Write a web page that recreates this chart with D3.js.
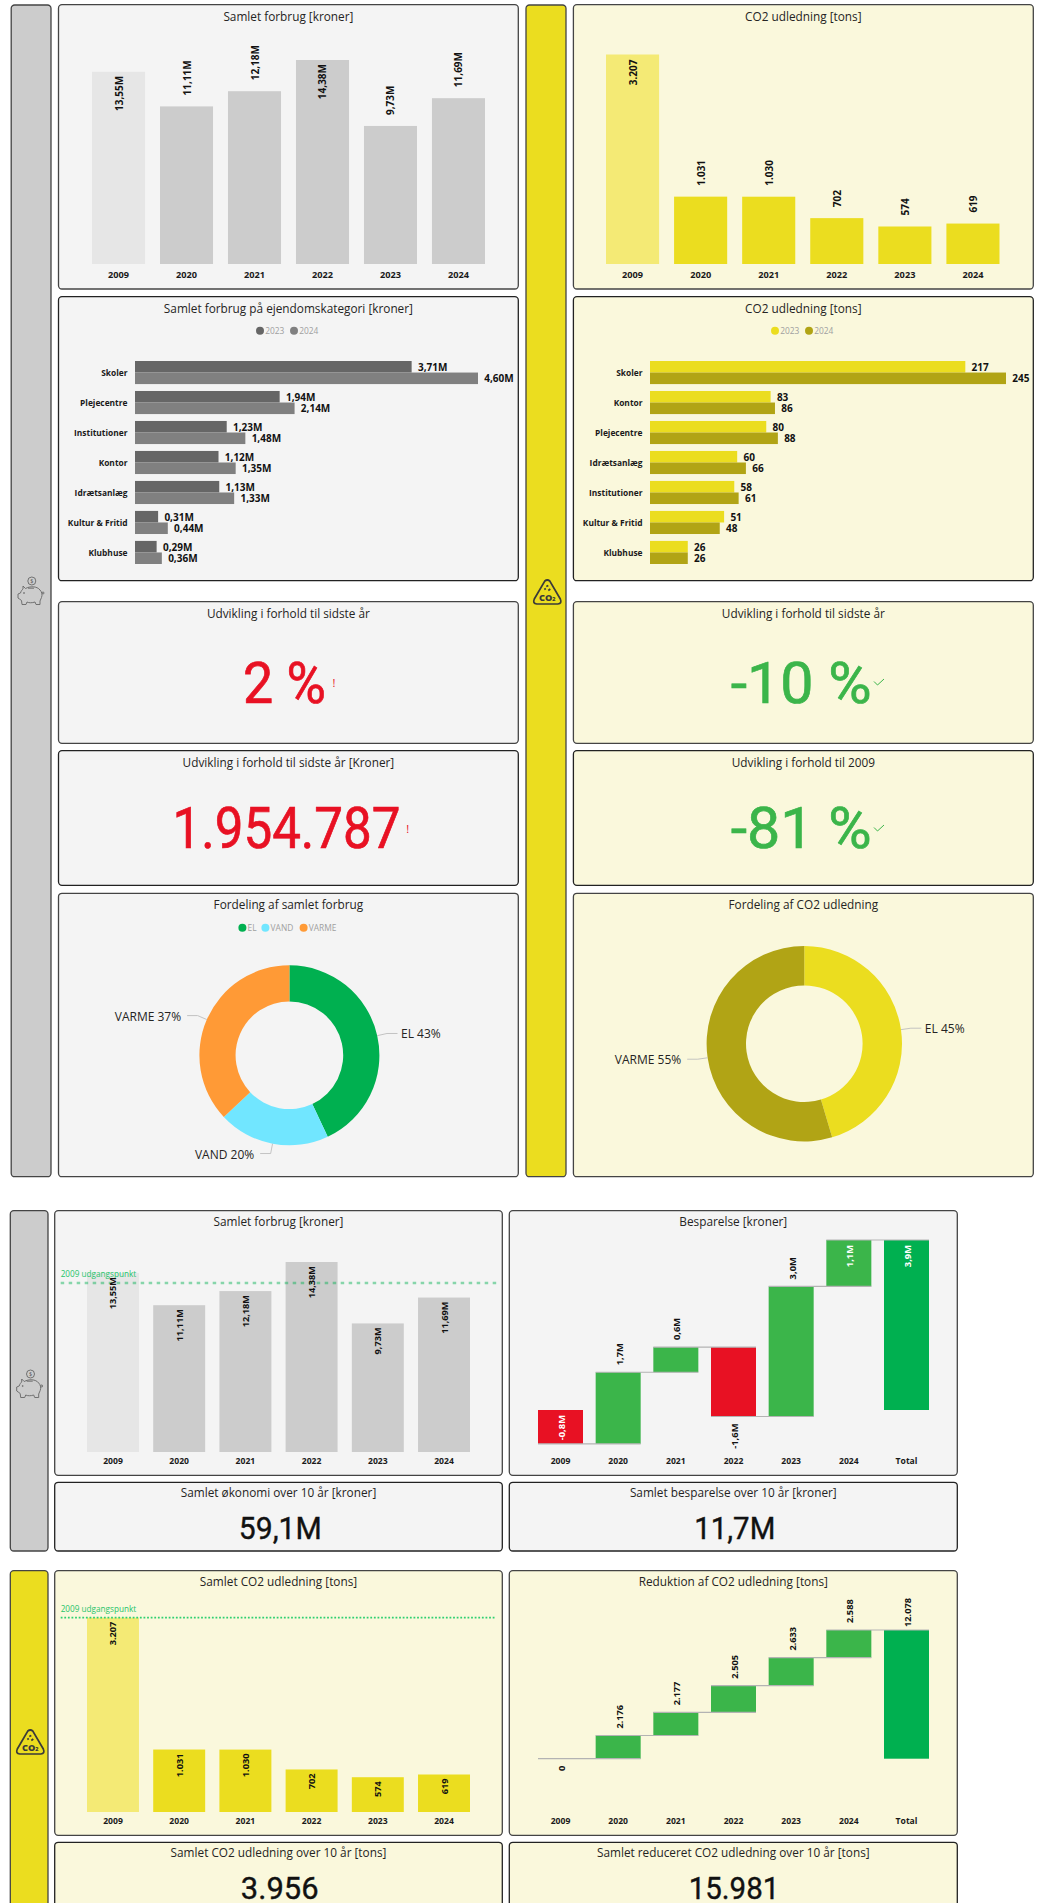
<!DOCTYPE html>
<html>
<head>
<meta charset="utf-8">
<script src="https://cdn.jsdelivr.net/npm/d3@7"></script>
<style>
  html, body { margin: 0; padding: 0; background: #fff; overflow: hidden; }
  svg { display: block; }
  text { font-family: "Open Sans", "Noto Sans", sans-serif; }
  .big { font-family: Roboto, sans-serif; font-weight: 400; }
</style>
</head>
<body>
<div id="chart"></div>
<script>
// data ////////////////////////////////
const years = ["2009", "2020", "2021", "2022", "2023", "2024"];
const wfYears = ["2009", "2020", "2021", "2022", "2023", "2024", "Total"];

const forbrug = [13.55, 11.11, 12.18, 14.38, 9.73, 11.69];
const forbrugLabels = ["13,55M", "11,11M", "12,18M", "14,38M", "9,73M", "11,69M"];
const co2 = [3207, 1031, 1030, 702, 574, 619];
const co2Labels = ["3.207", "1.031", "1.030", "702", "574", "619"];

const kategoriKr = ["Skoler", "Plejecentre", "Institutioner", "Kontor", "Idrætsanlæg", "Kultur & Fritid", "Klubhuse"];
const kr2023 = [3.71, 1.94, 1.23, 1.12, 1.13, 0.31, 0.29];
const kr2024 = [4.60, 2.14, 1.48, 1.35, 1.33, 0.44, 0.36];
const kategoriCo2 = ["Skoler", "Kontor", "Plejecentre", "Idrætsanlæg", "Institutioner", "Kultur & Fritid", "Klubhuse"];
const co2of2023 = [217, 83, 80, 60, 58, 51, 26];
const co2of2024 = [245, 86, 88, 66, 61, 48, 26];

const fordelingKr = [["EL", 43], ["VAND", 20], ["VARME", 37]];
const fordelingCo2 = [["EL", 45.4], ["VARME", 54.6]];

const besparelse = [-0.78, 1.65, 0.58, -1.6, 3.0, 1.07];
const besparelseLabels = ["-0,8M", "1,7M", "0,6M", "-1,6M", "3,0M", "1,1M", "3,9M"];
const reduktion = [0, 2176, 2177, 2505, 2633, 2588];
const reduktionLabels = ["0", "2.176", "2.177", "2.505", "2.633", "2.588", "12.078"];

const udgangKr = 12.79;
const udgangCo2 = 3207;

// colours
const GRAY = { bg: "#f4f4f4", side: "#cccccc", bar: "#cccccc", light: "#e6e6e6", a: "#666666", b: "#808080" };
const YEL = { bg: "#faf8dc", side: "#ebdd1f", bar: "#ebdd1f", light: "#f4ea75", a: "#ebdd1f", b: "#b1a415" };
const RED = "#e81123", GREEN = "#3bb54a", DKGREEN = "#00b050";
const pieColors = { EL: DKGREEN, VAND: "#71e6ff", VARME: "#ff9a36" };
const pieColorsCo2 = { EL: YEL.bar, VARME: YEL.b };

const svg = d3.select("#chart").append("svg").attr("width", 1039).attr("height", 1903);

function box(x0, y0, x1, y1, fill, stroke) {
  svg.append("rect")
    .attr("x", x0).attr("y", y0).attr("width", x1 - x0).attr("height", y1 - y0)
    .attr("rx", 3.5).attr("fill", fill).attr("stroke", stroke || "#444").attr("stroke-width", 1.3);
}

function title(x, y, s) {
  svg.append("text").attr("x", x).attr("y", y)
    .attr("text-anchor", "middle").attr("dominant-baseline", "central")
    .attr("font-size", 11.8).attr("fill", "#252423").text(s);
}

function vlabel(x, y, s, anchor, fill, size) {
  svg.append("text")
    .attr("transform", "translate(" + x + "," + y + ") rotate(-90)")
    .attr("text-anchor", anchor).attr("dominant-baseline", "central")
    .attr("font-size", size).attr("font-weight", 700).attr("fill", fill).text(s);
}

function axisLabels(x, y, size) {
  const g = svg.append("g").attr("transform", "translate(0," + y + ")")
    .call(d3.axisBottom(x).tickSize(0).tickPadding(0));
  g.select(".domain").remove();
  g.selectAll("text").attr("y", 0).attr("dy", 0).attr("dominant-baseline", "central")
    .attr("font-family", '"Open Sans", sans-serif').attr("font-size", size).attr("font-weight", 700).attr("fill", "#1a1a1a");
}

// column chart, first bar lighter
function columns(cfg) {
  const x = d3.scaleBand().domain(years).range(cfg.xr).paddingInner(cfg.pad);
  const y = d3.scaleLinear().domain([0, cfg.max]).range(cfg.yr);
  svg.append("g").selectAll("rect").data(cfg.values).enter().append("rect")
    .attr("x", (d, i) => x(years[i]))
    .attr("y", d => y(d))
    .attr("width", x.bandwidth())
    .attr("height", d => y(0) - y(d))
    .attr("fill", (d, i) => i === 0 ? cfg.colors.light : cfg.colors.bar);
  axisLabels(x, cfg.axisY, cfg.axisSize);
  if (cfg.ref !== undefined) {
    svg.append("line")
      .attr("x1", cfg.refX[0]).attr("x2", cfg.refX[1]).attr("y1", y(cfg.ref)).attr("y2", y(cfg.ref))
      .attr("stroke", cfg.refColor).attr("stroke-opacity", cfg.refOpacity)
      .attr("stroke-width", cfg.refW).attr("stroke-dasharray", cfg.refDash);
    svg.append("text").attr("x", cfg.refX[0]).attr("y", y(cfg.ref) - 9.5)
      .attr("dominant-baseline", "central").attr("font-size", 8.2).attr("fill", "#1fc46a").text("2009 udgangspunkt");
  }
  cfg.values.forEach((v, i) => {
    const inside = cfg.insideAll || cfg.inside.includes(years[i]);
    const cx = x(years[i]) + x.bandwidth() / 2;
    vlabel(cx, inside ? y(v) + cfg.gapIn : y(v) - cfg.gapOut, cfg.labels[i], inside ? "end" : "start", "#111", cfg.size);
  });
}

// paired horizontal bars
function hbars(cfg) {
  const y = d3.scaleBand().domain(cfg.cats).range(cfg.yr).paddingInner(0.23);
  const sub = d3.scaleBand().domain(["2023", "2024"]).range([0, y.bandwidth()]);
  const x = d3.scaleLinear().domain([0, cfg.max]).range(cfg.xr);
  [["2023", cfg.a, cfg.colors.a], ["2024", cfg.b, cfg.colors.b]].forEach(s => {
    svg.append("g").selectAll("rect").data(s[1]).enter().append("rect")
      .attr("x", x(0))
      .attr("y", (d, i) => y(cfg.cats[i]) + sub(s[0]))
      .attr("width", d => x(d) - x(0))
      .attr("height", sub.bandwidth())
      .attr("fill", s[2]);
    svg.append("g").selectAll("text").data(s[1]).enter().append("text")
      .attr("x", d => x(d) + 6.3)
      .attr("y", (d, i) => y(cfg.cats[i]) + sub(s[0]) + sub.bandwidth() / 2)
      .attr("dominant-baseline", "central").attr("font-size", 10).attr("font-weight", 700).attr("fill", "#111")
      .text(cfg.fmt);
  });
  const g = svg.append("g").attr("transform", "translate(" + (x(0) - 7.5) + ",0)")
    .call(d3.axisLeft(y).tickSize(0).tickPadding(0));
  g.select(".domain").remove();
  g.selectAll("text").attr("x", 0).attr("dy", 0).attr("dominant-baseline", "central")
    .attr("font-family", '"Open Sans", sans-serif').attr("font-size", 8.4).attr("font-weight", 700).attr("fill", "#1a1a1a");
  legend(cfg.legend, cfg.legendY, ["2023", "2024"], [cfg.colors.a, cfg.colors.b]);
}

function legend(xs, y, names, colors) {
  names.forEach((n, i) => {
    svg.append("circle").attr("cx", xs[i]).attr("cy", y).attr("r", 4).attr("fill", colors[i]);
    svg.append("text").attr("x", xs[i] + 5.2).attr("y", y).attr("dominant-baseline", "central")
      .attr("font-size", 8.4).attr("fill", "#a0a0a0").text(n);
  });
}

function kpi(cx, base, s, size, len, color) {
  svg.append("text").attr("class", "big").attr("x", cx).attr("y", base)
    .attr("text-anchor", "middle").attr("font-size", size).attr("fill", color)
    .attr("stroke", color).attr("stroke-width", size * 0.012)
    .attr("textLength", len).attr("lengthAdjust", "spacingAndGlyphs").text(s);
}

function flag(x, y) {
  svg.append("text").attr("x", x).attr("y", y).attr("text-anchor", "middle").attr("dominant-baseline", "central")
    .attr("font-size", 11).attr("fill", RED).text("!");
}

function tick(x, y) {
  svg.append("path").attr("transform", "translate(" + x + "," + y + ")")
    .attr("d", "M-5,-0.5 L-1.5,3 L5,-3").attr("fill", "none").attr("stroke", GREEN).attr("stroke-width", 1);
}

function donut(cfg) {
  const pie = d3.pie().sort(null).value(d => d[1]);
  const arc = d3.arc().innerRadius(cfg.r0).outerRadius(cfg.r1);
  const edge = d3.arc().innerRadius(cfg.r1).outerRadius(cfg.r1);
  const elbow = d3.arc().innerRadius(cfg.r1 + 10).outerRadius(cfg.r1 + 10);
  const g = svg.append("g").attr("transform", "translate(" + cfg.cx + "," + cfg.cy + ")");
  const arcs = pie(cfg.data);
  g.selectAll("path.s").data(arcs).enter().append("path").attr("class", "s")
    .attr("d", arc).attr("fill", d => cfg.colors[d.data[0]]);
  g.selectAll("path.l").data(arcs).enter().append("path").attr("class", "l")
    .attr("fill", "none").attr("stroke", "#bdbdbd").attr("stroke-width", 0.9)
    .attr("d", d => {
      const a = edge.centroid(d), b = elbow.centroid(d);
      const side = a[0] > 0 ? 1 : -1;
      return "M" + a + "L" + b + "L" + [b[0] + side * 10.5, b[1]];
    });
  g.selectAll("text").data(arcs).enter().append("text")
    .attr("x", d => { const b = elbow.centroid(d); return b[0] + (b[0] > 0 ? 14 : -16.5); })
    .attr("y", d => elbow.centroid(d)[1] + 0.5)
    .attr("text-anchor", d => elbow.centroid(d)[0] > 0 ? "start" : "end")
    .attr("dominant-baseline", "central").attr("font-size", 12).attr("fill", "#252423")
    .text(d => d.data[0] + " " + Math.round(d.data[1]) + "%");
}

function waterfall(cfg) {
  const x = d3.scaleBand().domain(wfYears).range(cfg.xr).paddingInner(12.67 / 57.67);
  const y = d3.scaleLinear().domain([0, cfg.max]).range(cfg.yr);
  const levels = [];
  let run = 0;
  cfg.deltas.forEach((d, i) => {
    levels.push({ key: wfYears[i], from: run, to: run + d, delta: d });
    run += d;
  });
  levels.push({ key: "Total", from: 0, to: run, delta: run, total: true });

  svg.append("g").selectAll("rect").data(levels).enter().append("rect")
    .attr("x", d => x(d.key))
    .attr("y", d => y(Math.max(d.from, d.to)))
    .attr("width", x.bandwidth())
    .attr("height", d => Math.abs(y(d.from) - y(d.to)))
    .attr("fill", d => d.total ? DKGREEN : d.delta < 0 ? RED : GREEN);

  svg.append("g").selectAll("line").data(levels.slice(0, -1)).enter().append("line")
    .attr("x1", d => x(d.key))
    .attr("x2", (d, i) => x(levels[i + 1].key) + x.bandwidth())
    .attr("y1", d => y(d.to)).attr("y2", d => y(d.to))
    .attr("stroke", "#b3b3b3").attr("stroke-width", 1.2);

  levels.forEach((d, i) => {
    const cx = x(d.key) + x.bandwidth() / 2 + 1;
    const top = y(Math.max(d.from, d.to)), bottom = y(Math.min(d.from, d.to));
    if (cfg.inside.includes(d.key)) vlabel(cx, top + 5, cfg.labels[i], "end", "#fff", cfg.size);
    else if (d.delta <= 0) vlabel(cx, bottom + 7, cfg.labels[i], "end", "#111", cfg.size);
    else vlabel(cx, top - (d.total ? 3 : 7), cfg.labels[i], "start", "#111", cfg.size);
  });
  axisLabels(x, cfg.axisY, cfg.axisSize);
}

function piggy(x, y) {
  const g = svg.append("g").attr("transform", "translate(" + x + "," + y + ")")
    .attr("fill", "none").attr("stroke", "#666").attr("stroke-width", 0.9);
  g.append("path").attr("d", "M-8,-8 L-5.5,-5.5 C-1,-8 6,-8 9,-4 C11,-2 11.5,1 10.5,3.5 L9,7 L9,10.5 L5,10.5 L4,8 C1,9 -2,9 -4,8 L-5,10.5 L-9,10.5 L-9.5,6.5 C-11,5.5 -12,4.5 -13,4 L-13,0 L-10.5,-1 C-10,-3 -9,-4 -8,-5 Z");
  g.append("circle").attr("cx", 12).attr("cy", -1).attr("r", 1);
  g.append("circle").attr("cx", -7).attr("cy", -1).attr("r", 0.5);
  g.append("path").attr("d", "M-3,-5.8 L3,-5.8");
  g.append("circle").attr("cx", 0.8).attr("cy", -13).attr("r", 4);
  g.append("text").attr("x", 0.8).attr("y", -13).attr("text-anchor", "middle").attr("dominant-baseline", "central")
    .attr("font-size", 5.5).attr("stroke", "none").attr("fill", "#555").text("$");
}

function co2Icon(x, y) {
  const g = svg.append("g").attr("transform", "translate(" + x + "," + y + ")");
  g.append("path").attr("d", "M-2.5,-11 Q0,-13 2.5,-11 L13,7 Q15,11.5 10.5,12 L-10.5,12 Q-15,11.5 -13,7 Z")
    .attr("fill", "none").attr("stroke", "#3a3a3a").attr("stroke-width", 1.7);
  g.append("path").attr("d", "M-3,-2.5 L-1.5,-3.5 M-1,-5.5 L1,-6.5 M1,-1.5 L3,-3")
    .attr("stroke", "#3a3a3a").attr("stroke-width", 1.7);
  const t = g.append("text").attr("x", 0).attr("y", 5).attr("text-anchor", "middle").attr("dominant-baseline", "central")
    .attr("font-size", 9.2).attr("font-weight", 800).attr("fill", "#3a3a3a");
  t.append("tspan").text("CO");
  t.append("tspan").attr("font-size", 5.5).attr("dy", 1.5).text("2");
}

// top block ////////////////////////////////
const LX0 = 58.5, LX1 = 518.3, RX0 = 573.4, RX1 = 1033.3;
const LC = (LX0 + LX1) / 2, RC = (RX0 + RX1) / 2;

box(11.2, 5, 51, 1176.7, GRAY.side);
box(526, 5, 566, 1176.7, YEL.side);
piggy(31, 594);
co2Icon(547.3, 592);

[[LX0, LX1, GRAY.bg], [RX0, RX1, YEL.bg]].forEach(c => {
  box(c[0], 4.7, c[1], 289, c[2]);
  box(c[0], 296.7, c[1], 580.7, c[2], "#222");
  box(c[0], 601.7, c[1], 743.3, c[2]);
  box(c[0], 750.7, c[1], 885.3, c[2], "#222");
  box(c[0], 893.3, c[1], 1176.7, c[2]);
});

title(LC, 15.7, "Samlet forbrug [kroner]");
columns({ values: forbrug, labels: forbrugLabels, xr: [92, 485], pad: 0.22, max: 14.38, yr: [264, 60], axisY: 274, axisSize: 9.2,
  colors: GRAY, inside: ["2009", "2022"], gapIn: 4, gapOut: 11, size: 10 });

title(RC, 15.7, "CO2 udledning [tons]");
columns({ values: co2, labels: co2Labels, xr: [606, 999.5], pad: 0.22, max: 3207, yr: [264, 54.5], axisY: 274, axisSize: 9.2,
  colors: YEL, inside: ["2009"], gapIn: 5, gapOut: 11, size: 10 });

title(LC, 307.7, "Samlet forbrug på ejendomskategori [kroner]");
hbars({ cats: kategoriKr, a: kr2023, b: kr2024, max: 4.6, xr: [135, 478], yr: [361, 564], colors: GRAY,
  fmt: d => d.toFixed(2).replace(".", ",") + "M", legend: [260, 294], legendY: 330.7 });

title(RC, 307.7, "CO2 udledning [tons]");
hbars({ cats: kategoriCo2, a: co2of2023, b: co2of2024, max: 245, xr: [650, 1006], yr: [361, 564], colors: YEL,
  fmt: d => d, legend: [775, 809], legendY: 330.7 });

title(LC, 612.7, "Udvikling i forhold til sidste år");
kpi(284.5, 702.7, "2 %", 58, 83, RED);
flag(334, 682);
title(LC, 761.7, "Udvikling i forhold til sidste år [Kroner]");
kpi(286.5, 848.3, "1.954.787", 57, 228, RED);
flag(407.7, 828);

title(RC, 612.7, "Udvikling i forhold til sidste år");
kpi(801.2, 702.7, "-10 %", 58, 141, GREEN);
tick(879, 682);
title(RC, 761.7, "Udvikling i forhold til 2009");
kpi(801.2, 848.3, "-81 %", 58, 141, GREEN);
tick(879, 828);

title(LC, 903.7, "Fordeling af samlet forbrug");
legend([242.4, 265.4, 303.6], 927.7, ["EL", "VAND", "VARME"], [pieColors.EL, pieColors.VAND, pieColors.VARME]);
donut({ data: fordelingKr, colors: pieColors, cx: 289.4, cy: 1055.3, r0: 53.8, r1: 90 });

title(RC, 903.7, "Fordeling af CO2 udledning");
donut({ data: fordelingCo2, colors: pieColorsCo2, cx: 804.3, cy: 1043.7, r0: 58.3, r1: 97.7 });

// lower blocks ////////////////////////////////
const BX0 = 54.7, BX1 = 502.3, WX0 = 509.3, WX1 = 957.3;
const BC = (BX0 + BX1) / 2, WC = (WX0 + WX1) / 2;

box(10.3, 1210.7, 48, 1551, GRAY.side);
box(BX0, 1210.7, BX1, 1475.3, GRAY.bg);
box(WX0, 1210.7, WX1, 1475.3, GRAY.bg);
box(BX0, 1482.3, BX1, 1551, GRAY.bg, "#222");
box(WX0, 1482.3, WX1, 1551, GRAY.bg, "#222");
piggy(29.7, 1387);

title(BC, 1221, "Samlet forbrug [kroner]");
columns({ values: forbrug, labels: forbrugLabels, xr: [87, 470], pad: 0.215, max: 14.38, yr: [1452, 1262], axisY: 1461, axisSize: 8.6,
  colors: GRAY, insideAll: true, inside: [], gapIn: 4, gapOut: 0, size: 9.2,
  ref: udgangKr, refX: [60.7, 498.3], refColor: "#00b050", refOpacity: 0.45, refW: 2.6, refDash: "3.5 4.5" });

title(WC, 1221, "Besparelse [kroner]");
waterfall({ deltas: besparelse, labels: besparelseLabels, xr: [538, 929], max: 3.92, yr: [1410, 1240], axisY: 1461, axisSize: 8.6,
  inside: ["2009", "2024", "Total"], size: 9.4 });

title(BC, 1492, "Samlet økonomi over 10 år [kroner]");
kpi(280.3, 1539.3, "59,1M", 32, 83, "#111");
title(WC, 1492, "Samlet besparelse over 10 år [kroner]");
kpi(734.8, 1539.3, "11,7M", 32, 81, "#111");

box(10.3, 1570.7, 48, 1920, YEL.side);
box(BX0, 1570.7, BX1, 1835.3, YEL.bg);
box(WX0, 1570.7, WX1, 1835.3, YEL.bg);
box(BX0, 1842.3, BX1, 1920, YEL.bg, "#222");
box(WX0, 1842.3, WX1, 1920, YEL.bg, "#222");
co2Icon(30.3, 1742);

title(BC, 1581, "Samlet CO2 udledning [tons]");
columns({ values: co2, labels: co2Labels, xr: [87, 470], pad: 0.215, max: 3207, yr: [1812, 1617.7], axisY: 1821, axisSize: 8.6,
  colors: YEL, insideAll: true, inside: [], gapIn: 4, gapOut: 0, size: 9.2,
  ref: udgangCo2, refX: [60.7, 496], refColor: "#2fd070", refOpacity: 1, refW: 1.8, refDash: "1.8 1.8" });

title(WC, 1581, "Reduktion af CO2 udledning [tons]");
waterfall({ deltas: reduktion, labels: reduktionLabels, xr: [538, 929], max: 12079, yr: [1758.7, 1630], axisY: 1821, axisSize: 8.6,
  inside: [], size: 9.2 });

title(BC, 1852, "Samlet CO2 udledning over 10 år [tons]");
kpi(279.7, 1899.4, "3.956", 32, 77.7, "#111");
title(WC, 1852, "Samlet reduceret CO2 udledning over 10 år [tons]");
kpi(734, 1899.4, "15.981", 32, 90.7, "#111");
</script>
</body>
</html>
